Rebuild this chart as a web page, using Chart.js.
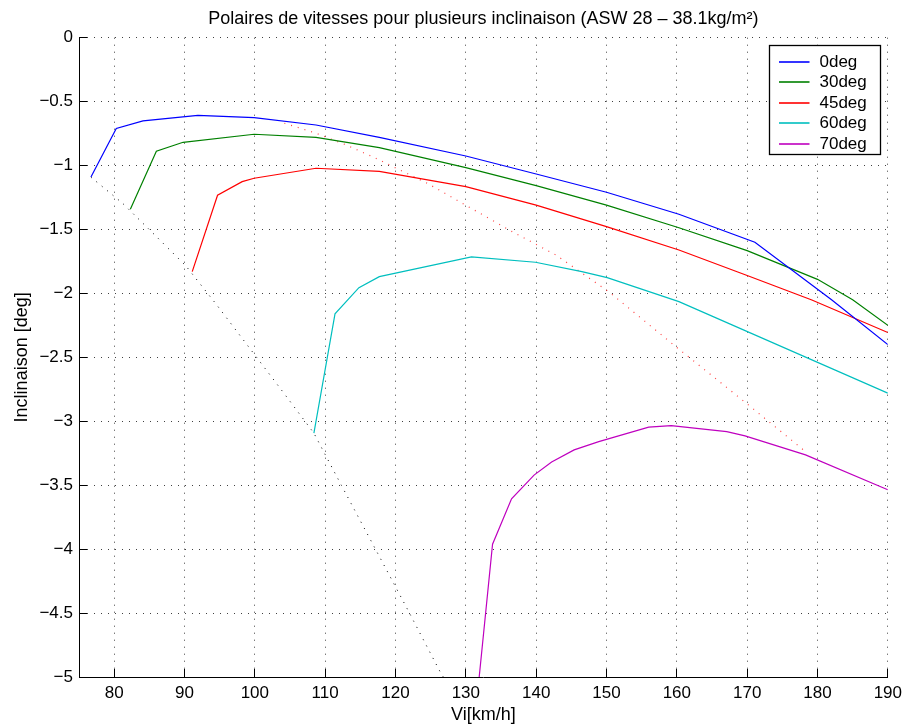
<!DOCTYPE html>
<html lang="fr">
<head>
<meta charset="utf-8">
<title>Polaires de vitesses</title>
<script src="https://cdn.jsdelivr.net/npm/chart.js@4.4.1/dist/chart.umd.min.js"></script>
<style>
  html,body{margin:0;padding:0;background:#fff;}
  #wrap{width:908px;height:728px;}
</style>
</head>
<body>
<div id="wrap"><canvas id="polar" width="908" height="728"></canvas></div>
<script>
// ASW 28 - 38.1 kg/m² : inclinaison de trajectoire vs vitesse indiquée, par angle d'inclinaison
const X_TICKS = [80,90,100,110,120,130,140,150,160,170,180,190];
const Y_TICKS = [0,-0.5,-1,-1.5,-2,-2.5,-3,-3.5,-4,-4.5,-5];

const LABELS = ["0deg","30deg","45deg","60deg","70deg"];
const COLORS = ["#0000ff","#008000","#ff0000","#00bfbf","#bf00bf"];

// vitesse [km/h] / inclinaison [deg]
const vi0  = [76.7, 80.3, 84.1, 91.9, 99.9, 108.7, 117.7, 130, 140, 150, 160.3, 171.1, 182.0, 190];
const inc0 = [-1.09, -0.71, -0.65, -0.607, -0.625, -0.683, -0.78, -0.925, -1.066, -1.209, -1.381, -1.60, -2.05, -2.40];

const vi30  = [82.3, 86.0, 89.8, 99.9, 108.7, 117.7, 130, 140, 150, 160.3, 170, 180, 185, 190];
const inc30 = [-1.342, -0.888, -0.818, -0.755, -0.779, -0.86, -1.016, -1.157, -1.310, -1.486, -1.665, -1.89, -2.05, -2.25];

const vi45  = [91.1, 94.7, 98.2, 99.9, 108.7, 117.7, 130, 140, 150, 160.3, 170, 179.2, 190];
const inc45 = [-1.830, -1.232, -1.126, -1.099, -1.021, -1.045, -1.165, -1.310, -1.478, -1.660, -1.86, -2.051, -2.306];

const vi60  = [108.4, 111.4, 114.8, 117.7, 130.8, 139.9, 146.5, 150.1, 160.3, 190];
const inc60 = [-3.093, -2.16, -1.955, -1.869, -1.715, -1.756, -1.830, -1.876, -2.064, -2.780];

const vi70  = [131.9, 133.8, 136.5, 139.7, 142.2, 145.4, 148.9, 156.0, 159.2, 167.1, 169.7, 178.3, 190];
const inc70 = [-5.0, -3.961, -3.607, -3.421, -3.318, -3.224, -3.159, -3.046, -3.034, -3.081, -3.114, -3.263, -3.536];

// limite de décrochage (début de chaque polaire)
const viStall  = [76.7, 81.2, 83.6, 85.3, 90.2, 94.5, 103.7, 108.4, 112.3, 117.2, 121.5, 126.4, 126.8];
const incStall = [-1.091, -1.295, -1.425, -1.517, -1.785, -2.084, -2.749, -3.093, -3.500, -4.005, -4.449, -4.965, -5.0];

// finesse max selon l'inclinaison
const viBest  = [104.2, 108.7, 113.0, 117.2, 124.5, 130.5, 136.6, 142.8, 150.3, 160.3, 169.3, 178.3];
const incBest = [-0.669, -0.747, -0.839, -0.943, -1.138, -1.326, -1.517, -1.699, -1.986, -2.436, -2.833, -3.237];

const FONT = '"Liberation Sans", Arial, Helvetica, sans-serif';
Chart.defaults.font.family = FONT;
Chart.defaults.color = "#000";

function pts(xs, ys){ return xs.map((x,i)=>({x, y:ys[i]})); }
function minus(v){ return v===0 ? "0" : (v<0 ? "\u2212" : "") + Math.abs(v); }

const curves = [[vi0,inc0],[vi30,inc30],[vi45,inc45],[vi60,inc60],[vi70,inc70]];
const datasets = curves.map(([xs,ys],i)=>({
  label: LABELS[i], data: pts(xs,ys), borderColor: COLORS[i], borderWidth: 1.2,
  pointRadius: 0, fill: false, tension: 0, inLegend: true
}));
datasets.push({ label:"", data: pts(viStall,incStall), borderColor:"#000", borderWidth:1, borderDash:[1,6], pointRadius:0, fill:false, tension:0 });
datasets.push({ label:"", data: pts(viBest,incBest), borderColor:"rgba(255,0,0,0.75)", borderWidth:1.2, borderDash:[1,6], pointRadius:0, fill:false, tension:0 });

// graduations tournées vers l'intérieur
const innerTicks = {
  id: "innerTicks",
  afterDraw(chart){
    const {ctx, chartArea:a, scales:{x,y}} = chart;
    ctx.save();
    ctx.strokeStyle = "#000"; ctx.lineWidth = 1;
    ctx.beginPath();
    X_TICKS.forEach(v=>{ const px = Math.round(x.getPixelForValue(v)-0.5)+0.5; ctx.moveTo(px,a.bottom); ctx.lineTo(px,a.bottom-8); });
    Y_TICKS.forEach(v=>{ const py = Math.round(y.getPixelForValue(v)-0.5)+0.5; ctx.moveTo(a.left,py); ctx.lineTo(a.left+8,py); });
    ctx.stroke();
    ctx.restore();
  }
};

// légende encadrée en haut à droite
const boxLegend = {
  id: "boxLegend",
  afterDraw(chart){
    const {ctx, chartArea:a} = chart;
    const items = chart.data.datasets.filter(d=>d.inLegend);
    const w = 111, h = 109;
    const left = Math.round(a.right - 8 - w) + 0.5, top = Math.round(a.top + 7) + 0.5;
    ctx.save();
    ctx.fillStyle = "#fff";
    ctx.fillRect(left, top, w, h);
    ctx.strokeStyle = "#000"; ctx.lineWidth = 1.3;
    ctx.strokeRect(left, top, w, h);
    ctx.font = "17px " + FONT;
    ctx.textBaseline = "middle"; ctx.textAlign = "left";
    items.forEach((d,i)=>{
      const yy = Math.round(top + 16 + i*20.6);
      ctx.strokeStyle = d.borderColor; ctx.lineWidth = 1.6;
      ctx.beginPath(); ctx.moveTo(left+9.5, yy); ctx.lineTo(left+40, yy); ctx.stroke();
      ctx.fillStyle = "#000";
      ctx.fillText(d.label, left+50, yy);
    });
    ctx.restore();
  }
};

new Chart(document.getElementById("polar"), {
  type: "line",
  data: { datasets },
  options: {
    responsive: false, animation: false,
    layout: { padding: { left:0, right:18, top:0, bottom:0 } },
    plugins: {
      legend: { display:false },
      tooltip: { enabled:false },
      title: {
        display: true, fullSize: false, color: "#000",
        text: "Polaires de vitesses pour plusieurs inclinaison (ASW 28 \u2013 38.1kg/m\u00b2)",
        font: { size:18, weight:"normal" }, padding: { top:8.7, bottom:7.4 }
      }
    },
    scales: {
      x: {
        type: "linear", min: 75, max: 190,
        afterBuildTicks: s => { s.ticks = X_TICKS.map(v=>({value:v})); },
        afterFit: s => { s.height = 51; },
        grid: { color:"rgba(0,0,0,0.75)", lineWidth:1, drawTicks:false },
        border: { display:true, color:"#000", width:1, dash:[1,6] },
        ticks: { padding:6, font:{size:17}, color:"#000", maxRotation:0, autoSkip:false, callback: v => String(v) },
        title: { display:true, text:"Vi[km/h]", font:{size:18}, color:"#000", padding:{top:0, bottom:2.5} }
      },
      y: {
        type: "linear", min: -5, max: 0,
        afterBuildTicks: s => { s.ticks = Y_TICKS.map(v=>({value:v})); },
        afterFit: s => { s.width = 79; },
        grid: { color:"rgba(0,0,0,0.75)", lineWidth:1, drawTicks:false },
        border: { display:true, color:"#000", width:1, dash:[1,6] },
        ticks: { padding:6, font:{size:17}, color:"#000", autoSkip:false, callback: v => minus(v) },
        title: { display:true, text:"Inclinaison [deg]", font:{size:18}, color:"#000", padding:{top:11, bottom:0} }
      }
    }
  },
  plugins: [innerTicks, boxLegend]
});
</script>
</body>
</html>
